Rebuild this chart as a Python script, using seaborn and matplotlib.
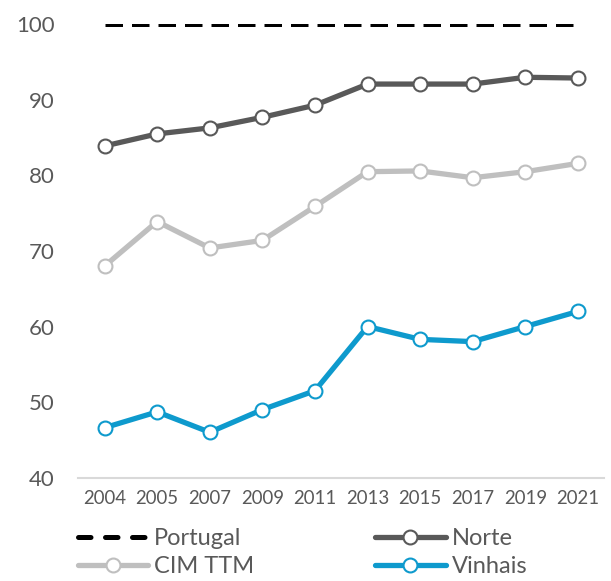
import matplotlib
matplotlib.use("Agg")
import matplotlib.pyplot as plt
import seaborn as sns
import pandas as pd
from matplotlib.lines import Line2D

years = ["2004", "2005", "2007", "2009", "2011", "2013", "2015", "2017", "2019", "2021"]
portugal = [100, 100, 100, 100, 100, 100, 100, 100, 100, 100]
norte = [83.9, 85.5, 86.3, 87.7, 89.3, 92.1, 92.1, 92.1, 93.0, 92.9]
cim_ttm = [68.0, 73.9, 70.4, 71.4, 75.9, 80.5, 80.6, 79.7, 80.5, 81.6]
vinhais = [46.6, 48.7, 46.0, 49.0, 51.5, 60.0, 58.3, 58.0, 60.0, 62.0]
y_ticks = [40, 50, 60, 70, 80, 90, 100]

df = pd.DataFrame({"year": years, "Portugal": portugal, "Norte": norte,
                   "CIM TTM": cim_ttm, "Vinhais": vinhais})

sns.set_theme(style="white")
plt.rcParams["font.family"] = ["Lato", "DejaVu Sans"]

fig = plt.figure(figsize=(6.11, 5.81), dpi=100)
ax = fig.add_axes([0.128, 0.178, 0.861, 0.780])

TXT = "#595959"
C_NORTE = "#595959"
C_CIM = "#BFBFBF"
C_VIN = "#0E9ACD"

sns.lineplot(data=df, x="year", y="Portugal", ax=ax, color="black",
             linewidth=3.6, dashes=False, sort=False)
ax.lines[-1].set_dashes([3.5, 1.8])

handles = [Line2D([], [], color="black", linewidth=3.6, dashes=[2.5, 2.9],
                  dash_capstyle="round")]
series = [("Norte", C_NORTE), ("CIM TTM", C_CIM), ("Vinhais", C_VIN)]
for name, col in series:
    sns.lineplot(data=df, x="year", y=name, ax=ax, color=col, linewidth=3.8,
                 marker="o", markersize=10, markerfacecolor="white",
                 markeredgecolor=col, markeredgewidth=1.5, sort=False)
    handles.append(Line2D([], [], color=col, linewidth=3.8, marker="o",
                          markersize=10, markerfacecolor="white",
                          markeredgecolor=col, markeredgewidth=1.5))

ax.set_xlim(-0.5, len(years) - 0.5)
ax.set_ylim(40, 100)
ax.set_yticks(y_ticks)
ax.set_yticklabels([str(v) for v in y_ticks], fontsize=16, color=TXT)
ax.tick_params(axis="x", labelsize=13.4, colors=TXT, length=0, pad=9)
ax.tick_params(axis="y", length=0, pad=17)
ax.set_xlabel("")
ax.set_ylabel("")
for s in ["top", "right", "left"]:
    ax.spines[s].set_visible(False)
ax.spines["bottom"].set_color("#D9D9D9")
ax.spines["bottom"].set_linewidth(1.5)
ax.grid(False)
ax.patch.set_alpha(0)

labels = ["Portugal", "Norte", "CIM TTM", "Vinhais"]
order = [0, 2, 1, 3]
leg = fig.legend([handles[i] for i in order], [labels[i] for i in order],
                 loc="lower left", bbox_to_anchor=(0.100, -0.022), ncol=2,
                 frameon=False, fontsize=17, handlelength=3.0,
                 handletextpad=0.25, columnspacing=5.1, labelspacing=0.3,
                 borderpad=0.2)
for t in leg.get_texts():
    t.set_color(TXT)

fig.savefig("out.png", dpi=100)
